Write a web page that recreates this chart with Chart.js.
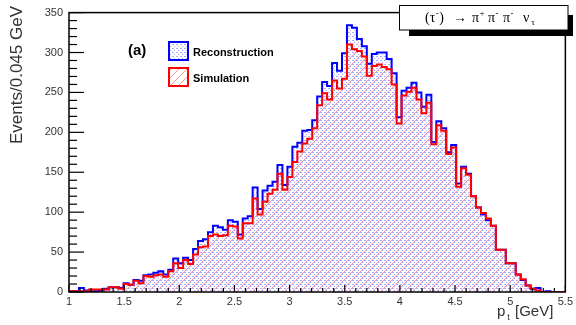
<!DOCTYPE html>
<html>
<head>
<meta charset="utf-8">
<script src="https://cdn.jsdelivr.net/npm/chart.js@4.4.0/dist/chart.umd.min.js"></script>
<style>
html,body{margin:0;padding:0;background:#fff;}
#wrap{width:576px;height:325px;position:relative;}
</style>
</head>
<body>
<div id="wrap"><canvas id="c" width="576" height="325"></canvas></div>
<script>
// ---- data ----
const xMin = 1.0, xMax = 5.5, binWidth = 0.045;
const yMin = 0, yMax = 350;
const xTickLabels = ['1','1.5','2','2.5','3','3.5','4','4.5','5','5.5'];
const yTickLabels = ['0','50','100','150','200','250','300','350'];
const seriesNames = ['Reconstruction','Simulation'];
const panelLabel = '(a)';
const yTitle = 'Events/0.045 GeV';

const reconstruction = [
  0,1,1,5,2,1,1,2,4,6,
  6,5,11,9,15,14,21,22,24,26,
  22,28,42,36,43,40,54,64,66,75,
  83,81,78,90,88,72,92,95,131,104,
  127,133,138,159,134,157,182,187,202,203,
  215,245,263,258,287,277,299,334,331,317,
  308,286,298,300,300,292,274,219,252,256,
  262,250,232,247,188,214,205,175,184,136,
  157,148,120,106,97,90,83,53,53,36,
  36,22,15,8,4,5,0,1,0,0
];
const simulation = [
  0,1,1,1,1,3,3,3,3,6,
  6,4,10,9,14,11,20,19,21,22,
  19,26,36,30,40,35,47,56,57,70,
  72,70,71,83,82,67,86,86,117,97,
  113,123,128,148,128,144,163,176,186,192,
  205,234,249,241,265,255,267,310,304,302,
  295,271,283,285,282,279,260,211,246,251,
  256,241,224,237,185,209,202,173,181,132,
  155,147,120,106,99,92,83,53,53,36,
  36,22,16,8,4,2,0,0,0,0
];

// ---- helpers ----
function toSteps(vals){
  const pts = vals.map((v,i)=>({x: xMin + i*binWidth, y: v}));
  pts.push({x: xMin + vals.length*binWidth, y: vals[vals.length-1]});
  return pts;
}
function makeDots(){
  const c=document.createElement('canvas'); c.width=4; c.height=4;
  const g=c.getContext('2d');
  g.fillStyle='rgba(70,70,255,0.45)';
  g.fillRect(0,0,2,1); g.fillRect(2,2,1,1);
  return g.createPattern(c,'repeat');
}
function makeHatch(){
  const c=document.createElement('canvas'); c.width=8; c.height=8;
  const g=c.getContext('2d');
  g.fillStyle='rgba(255,80,80,0.6)';
  for(let i=0;i<8;i++) g.fillRect(i,7-i,1,1);
  return g.createPattern(c,'repeat');
}
const dots = makeDots();
const hatch = makeHatch();
const SANS = '"Liberation Sans", Arial, sans-serif';
const SERIF = '"Liberation Serif", "DejaVu Serif", serif';

const decor = {
  id:'decor',
  afterDraw(chart){
    const ctx = chart.ctx;
    const a = chart.chartArea;
    const xs = chart.scales.x, ys = chart.scales.y;
    ctx.save();
    // frame
    ctx.strokeStyle='#000'; ctx.lineWidth=1.5;
    ctx.strokeRect(a.left, a.top, a.right-a.left, a.bottom-a.top);
    // y ticks
    ctx.lineWidth=1.2;
    for(let v=yMin; v<=yMax; v+=10){
      const y = ys.getPixelForValue(v);
      const len = (v%50===0)?15:8;
      ctx.beginPath(); ctx.moveTo(a.left,y); ctx.lineTo(a.left+len,y); ctx.stroke();
    }
    // x ticks
    for(let k=0;k<=45;k++){
      const v = xMin + k*0.1;
      const x = xs.getPixelForValue(v);
      const len = (k%5===0)?7:4;
      ctx.beginPath(); ctx.moveTo(x,a.bottom); ctx.lineTo(x,a.bottom-len); ctx.stroke();
    }
    // title box with shadow
    ctx.fillStyle='#000';
    ctx.fillRect(409,15,164,21);
    ctx.fillStyle='#fff';
    ctx.fillRect(399,5,169,25);
    ctx.lineWidth=1; ctx.strokeStyle='#000';
    ctx.strokeRect(399.5,5.5,168.5,24.5);
    ctx.fillStyle='#000';
    ctx.textBaseline='alphabetic'; ctx.textAlign='left';
    const base = 22;
    ctx.font='14px '+SERIF;
    ctx.fillText('(\u03c4', 425, base);
    let w = ctx.measureText('(\u03c4').width;
    ctx.font='9px '+SERIF;
    ctx.fillText('-', 425+w+0.5, base-6);
    ctx.font='14px '+SERIF;
    ctx.fillText(')', 425+w+4, base);
    ctx.fillText('\u2192', 453, base);
    const pis = [[472,'+'],[488,'-'],[503,'-']];
    pis.forEach(([x,s])=>{
      ctx.font='14px '+SERIF; ctx.fillText('\u03c0', x, base);
      const pw = ctx.measureText('\u03c0').width;
      ctx.font='9px '+SERIF; ctx.fillText(s, x+pw+0.5, base-6);
    });
    ctx.font='14px '+SERIF; ctx.fillText('\u03bd', 523, base);
    const nw = ctx.measureText('\u03bd').width;
    ctx.font='9px '+SERIF; ctx.fillText('\u03c4', 523+nw+2, base+3);

    // panel label and legend
    ctx.font='bold 15px '+SANS;
    ctx.fillText(panelLabel, 128, 55);
    const boxes = [[42, dots, '#0000ff', seriesNames[0], 56],[68, hatch, '#ff0000', seriesNames[1], 82]];
    boxes.forEach(([y, pat, col, name, ty])=>{
      ctx.fillStyle='#fff'; ctx.fillRect(169,y,19,18);
      ctx.fillStyle = pat; ctx.fillRect(169,y,19,18);
      ctx.strokeStyle=col; ctx.lineWidth=2; ctx.strokeRect(169,y,19,18);
      ctx.fillStyle='#000'; ctx.font='bold 11px '+SANS;
      ctx.fillText(name, 193, ty);
    });
    // y title
    ctx.save();
    ctx.translate(22, 6); ctx.rotate(-Math.PI/2);
    ctx.textAlign='right'; ctx.textBaseline='alphabetic';
    ctx.fillStyle='#333'; ctx.font='17px '+SANS;
    ctx.fillText(yTitle, 0, 0);
    ctx.restore();
    // x title
    ctx.fillStyle='#333';
    ctx.font='15px '+SANS; ctx.textAlign='left';
    ctx.fillText('p', 497, 316);
    const ppw = ctx.measureText('p').width;
    ctx.font='9px '+SANS; ctx.fillText('t', 497+ppw+2, 320);
    ctx.font='15px '+SANS; ctx.fillText('[GeV]', 515, 316);
    ctx.restore();
  }
};

new Chart(document.getElementById('c'), {
  type:'line',
  data:{
    datasets:[
      {label:seriesNames[0], data: toSteps(reconstruction), stepped:'after', borderColor:'#0000ff', borderWidth:2,
       backgroundColor: dots, fill:'origin', pointRadius:0, order:2},
      {label:seriesNames[1], data: toSteps(simulation), stepped:'after', borderColor:'#ff0000', borderWidth:2,
       backgroundColor: hatch, fill:'origin', pointRadius:0, order:1}
    ]
  },
  options:{
    responsive:false, animation:false, devicePixelRatio:1,
    layout:{padding:{top:12,right:8,left:0,bottom:0}},
    plugins:{legend:{display:false}, tooltip:{enabled:false}},
    scales:{
      x:{type:'linear', min:xMin, max:xMax,
         ticks:{stepSize:0.5, autoSkip:false, maxRotation:0, padding:3,
                callback:(v,i)=>xTickLabels[i], color:'#333', font:{size:11, family:SANS}},
         grid:{display:false, drawTicks:false}, border:{display:false},
         afterFit:(s)=>{s.height=33;}},
      y:{min:yMin, max:yMax,
         ticks:{stepSize:50, padding:6, callback:(v,i)=>yTickLabels[i], color:'#333', font:{size:11, family:SANS}},
         grid:{display:false, drawTicks:false}, border:{display:false},
         afterFit:(s)=>{s.width=69;}}
    }
  },
  plugins:[decor]
});
</script>
</body>
</html>
